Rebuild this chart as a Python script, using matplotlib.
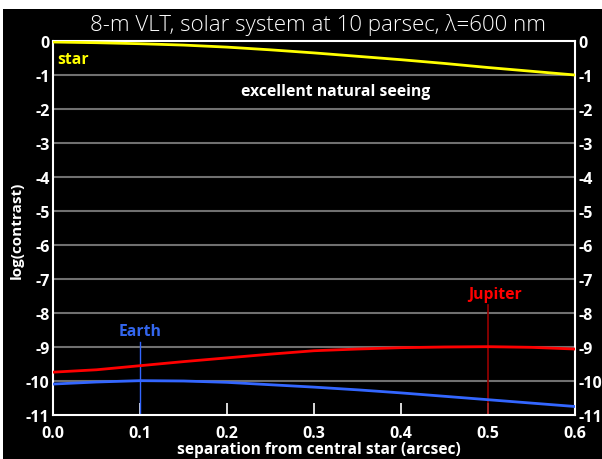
import matplotlib
matplotlib.use("Agg")
import matplotlib.pyplot as plt
import numpy as np
from matplotlib.patches import Rectangle

# data
sep = [0.0, 0.05, 0.1, 0.15, 0.2, 0.25, 0.3, 0.35, 0.4, 0.45, 0.5, 0.55, 0.6]
star = [-0.03, -0.05, -0.08, -0.12, -0.18, -0.26, -0.35, -0.45, -0.55, -0.66, -0.78, -0.89, -1.0]
jupiter = [-9.74, -9.67, -9.55, -9.43, -9.32, -9.21, -9.11, -9.06, -9.02, -9.0, -8.99, -9.01, -9.06]
earth = [-10.09, -10.03, -9.99, -10.0, -10.04, -10.11, -10.18, -10.26, -10.35, -10.45, -10.55, -10.65, -10.75]
xticks = [0.0, 0.1, 0.2, 0.3, 0.4, 0.5, 0.6]
yticks = [0, -1, -2, -3, -4, -5, -6, -7, -8, -9, -10, -11]
earth_sep = 0.1
jupiter_sep = 0.5

plt.rcParams['font.family'] = ['Open Sans', 'DejaVu Sans']

W, H = 602, 460
fig = plt.figure(figsize=(W / 100, H / 100), dpi=100, facecolor='white')
fig.patches.append(Rectangle((3 / W, 0), 1, 1 - 10 / H, transform=fig.transFigure,
                             facecolor='black', edgecolor='none', zorder=-10))
ax = fig.add_axes([53 / W, 1 - 416 / H, 522 / W, 374 / H])
ax.set_zorder(5)
ax.set_facecolor('black')

ax.set_xlim(0, 0.6)
ax.set_ylim(-11, 0)

for yv in yticks[1:-1]:
    ax.axhline(yv, color='#707070', lw=1.5, zorder=1)

ax.plot(sep, star, color='#ffff00', lw=2, zorder=3)
ax.plot(sep, jupiter, color='#ff0000', lw=2, zorder=3)
ax.plot(sep, earth, color='#3366ff', lw=2, zorder=3)

ax.plot([earth_sep, earth_sep], [-8.84, -11], color='#3366ff', lw=1, zorder=2)
ax.plot([jupiter_sep, jupiter_sep], [-7.76, -11], color='#990000', lw=1.2, zorder=2)

fs_ann = 11.3
ax.text(earth_sep, -8.52, 'Earth', color='#3366ee', fontsize=fs_ann, fontweight='bold', ha='center', va='center')
ax.text(0.508, -7.44, 'Jupiter', color='#ff0000', fontsize=fs_ann, fontweight='bold', ha='center', va='center')
ax.text(0.005, -0.53, 'star', color='#ffff00', fontsize=fs_ann, fontweight='bold', ha='left', va='center')
ax.text(0.325, -1.46, 'excellent natural seeing', color='white', fontsize=fs_ann, fontweight='bold',
        ha='center', va='center')

for s in ax.spines.values():
    s.set_color('white')
    s.set_linewidth(1.5)

ax.set_xticks(xticks)
ax.set_xticklabels([f'{v:.1f}' for v in xticks])
ax.set_yticks(yticks)
ax.set_yticklabels([str(v) for v in yticks])
ax.tick_params(axis='x', direction='in', length=9, width=1.2, color='white', labelcolor='white',
               labelsize=11.5, pad=7)
ax.tick_params(axis='y', length=0, labelcolor='white', labelsize=11.5, pad=2.5,
               left=True, right=True, labelleft=True, labelright=True)
for lbl in ax.get_xticklabels() + ax.get_yticklabels():
    lbl.set_fontweight('bold')
for lbl in ax.yaxis.get_ticklabels(which='both'):
    lbl.set_fontweight('bold')
for t in ax.yaxis.get_major_ticks():
    t.label2.set_fontweight('bold')

fig.text(319 / W, 1 - 450 / H, 'separation from central star (arcsec)', color='white',
         fontsize=11.2, fontweight='bold', ha='center', va='center')
fig.text(17 / W, 1 - 230 / H, 'log(contrast)', color='white', rotation=90,
         fontsize=11, fontweight='bold', ha='center', va='center')

fig.text(317.5 / W, 1 - 31 / H, '8-m VLT, solar system at 10 parsec, λ=600 nm', color='white',
         fontsize=16, fontweight='light', ha='center', va='baseline')

fig.savefig('out.png', dpi=100, facecolor='white')
